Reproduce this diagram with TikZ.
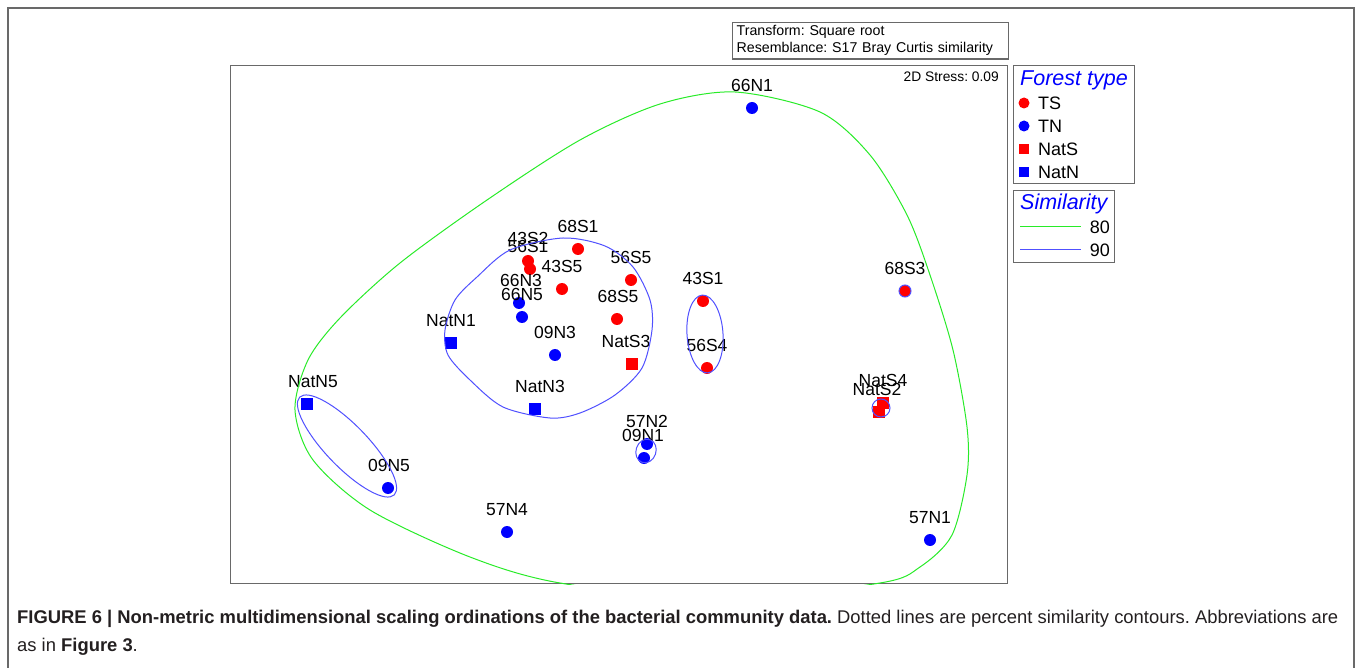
\documentclass[tikz,border=0pt]{standalone}
\usepackage{fontspec}
\setmainfont{Liberation Sans}
\usetikzlibrary{positioning}
\definecolor{ptred}{RGB}{255,0,0}
\definecolor{ptblue}{RGB}{0,0,255}
\definecolor{cgreen}{RGB}{40,235,40}
\definecolor{cblue}{RGB}{80,80,255}
\definecolor{framegray}{RGB}{105,105,105}
\definecolor{captext}{RGB}{35,31,32}
\frenchspacing

\begin{document}
\begin{tikzpicture}[x=1pt,y=-1pt,
    tsdot/.style={circle,fill=ptred,minimum size=12pt,inner sep=0pt},
    tndot/.style={circle,fill=ptblue,minimum size=12pt,inner sep=0pt},
    natssq/.style={rectangle,fill=ptred,minimum size=12.5pt,inner sep=0pt},
    natnsq/.style={rectangle,fill=ptblue,minimum size=12.5pt,inner sep=0pt},
    lbl/.style={font=\fontsize{17.5}{20}\selectfont,inner sep=0pt},
    legtxt/.style={font=\fontsize{18}{20}\selectfont,inner sep=0pt},
    legtitle/.style={font=\fontsize{21.5}{24}\selectfont\itshape,text=ptblue,inner sep=0pt},
    box/.style={draw=framegray,line width=1.3pt},
    c80/.style={cgreen,line width=1pt},
    c90/.style={cblue,line width=1pt}]

    \useasboundingbox (0,0) rectangle (1358,668);

    % Outer frame (open at the bottom)
    \draw[framegray,line width=2pt] (8,668) -- (8,8) -- (1354,8) -- (1354,668);

    % Transform / resemblance note
    \node[box,anchor=north west,align=left,text width=268pt,inner xsep=4pt,inner ysep=3pt,
          font=\fontsize{14.2}{17}\selectfont] (note) at (732,22)
        {Transform: Square root\\Resemblance: S17 Bray Curtis similarity};

    % Plot area
    \node[box,anchor=north west,minimum width=777pt,minimum height=518pt,inner sep=0pt] (plot) at (230,65) {};
    \node[anchor=east,inner sep=0pt,font=\fontsize{13.8}{16}\selectfont] (stress) at (999,77) {2D Stress: 0.09};

    % Samples
    \foreach \n/\x/\y/\dx in {68S1/578/249/0, 43S2/528/261/0, 56S1/530/269/-2, 43S5/562/289/0,
                              56S5/631/280/0, 68S5/617/319/1, 43S1/703/301/0, 56S4/707/368/0, 68S3/905/291/0}
        {\node[tsdot] (\n) at (\x,\y) {};
         \node[lbl,above=9.5pt of \n,xshift=\dx pt] {\n};}
    \foreach \n/\x/\y/\dx in {66N1/752/108/0, 66N3/519/303/2, 66N5/522/317/0, 09N3/555/355/0, 57N2/647/444/0,
                              09N1/644/458/-1, 09N5/388/488/1, 57N4/507/532/0, 57N1/930/540/0}
        {\node[tndot] (\n) at (\x,\y) {};
         \node[lbl,above=9.5pt of \n,xshift=\dx pt] {\n};}
    \foreach \n/\x/\y/\dx in {NatS3/632/364/-6, NatS4/883/403/0, NatS2/879/412/-2}
        {\node[natssq] (\n) at (\x,\y) {};
         \node[lbl,above=9.5pt of \n,xshift=\dx pt] {\n};}
    \foreach \n/\x/\y/\dx in {NatN1/451/343/0, NatN5/307/404/6, NatN3/535/409/5}
        {\node[natnsq] (\n) at (\x,\y) {};
         \node[lbl,above=9.5pt of \n,xshift=\dx pt] {\n};}

    % 80% contour
    \begin{scope}
        \clip (plot.north west) rectangle (plot.south east);
        \draw[c80] plot[smooth cycle] coordinates {(735,92) (820,112) (870,155) (907,215) (930,275)
            (953,350) (967,427) (967,475) (952,535) (920,567) (880,583) (720,600) (560,583) (470,557)
            (370,510) (313,460) (295,410) (308,360) (340,318) (400,263) (487,200) (580,140) (660,104)};
    \end{scope}

    % 90% contours
    \draw[c90] plot[smooth cycle] coordinates {(563,238) (605,246) (633,267) (650,300) (652,330)
        (642,368) (615,395) (580,413) (550,418) (503,407) (470,380) (448,355) (445,330) (455,300)
        (477,277) (510,250)};
    \draw[c90,rotate around={-46:(347,446)}] (347,446) ellipse [x radius=68pt,y radius=21pt];
    \draw[c90,rotate around={4:(705,334)}] (705,334) ellipse [x radius=18pt,y radius=39pt];
    \draw[c90,rotate around={-19:(646,451)}] (646,451) ellipse [x radius=10pt,y radius=12pt];
    \draw[c90] (881,408) ellipse [x radius=9pt,y radius=9pt];
    \draw[c90] (68S3) circle [radius=6pt];

    % Forest type legend
    \node[box,anchor=north west,minimum width=121pt,minimum height=118pt,inner sep=0pt] (legtype) at (1013,65) {};
    \node[legtitle,anchor=base west] (typetitle) at (1020,86) {Forest type};
    \node[tsdot,minimum size=11pt] (kTS) at (1024,103) {};
    \node[legtxt,anchor=west] at (1038,103) {TS};
    \node[tndot,minimum size=11pt] (kTN) at (1024,126) {};
    \node[legtxt,anchor=west] at (1038,126) {TN};
    \node[natssq,minimum size=10pt] (kNatS) at (1024,149) {};
    \node[legtxt,anchor=west] at (1038,149) {NatS};
    \node[natnsq,minimum size=10pt] (kNatN) at (1024,172) {};
    \node[legtxt,anchor=west] at (1038,172) {NatN};

    % Similarity legend
    \node[box,anchor=north west,minimum width=101pt,minimum height=72pt,inner sep=0pt] (legsim) at (1013,190) {};
    \node[legtitle,anchor=base west] (simtitle) at (1020,210) {Similarity};
    \coordinate (k80a) at (1020,227);
    \coordinate (k80b) at (1081,227);
    \draw[c80] (k80a) -- (k80b);
    \node[legtxt,anchor=east] at (1110,227) {80};
    \coordinate (k90a) at (1020,250);
    \coordinate (k90b) at (1081,250);
    \draw[c90] (k90a) -- (k90b);
    \node[legtxt,anchor=east] at (1110,250) {90};

    % Caption
    \node[anchor=base west,inner sep=0pt,text=captext,font=\fontsize{18.4}{22}\selectfont] (cap1) at (17,623)
        {\textbf{FIGURE 6 | Non-metric multidimensional scaling ordinations of the bacterial community data.} Dotted lines are percent similarity contours. Abbreviations are};
    \node[anchor=base west,inner sep=0pt,text=captext,font=\fontsize{18.4}{22}\selectfont] (cap2) at (17,651)
        {as in \textbf{Figure 3}.};
\end{tikzpicture}
\end{document}
